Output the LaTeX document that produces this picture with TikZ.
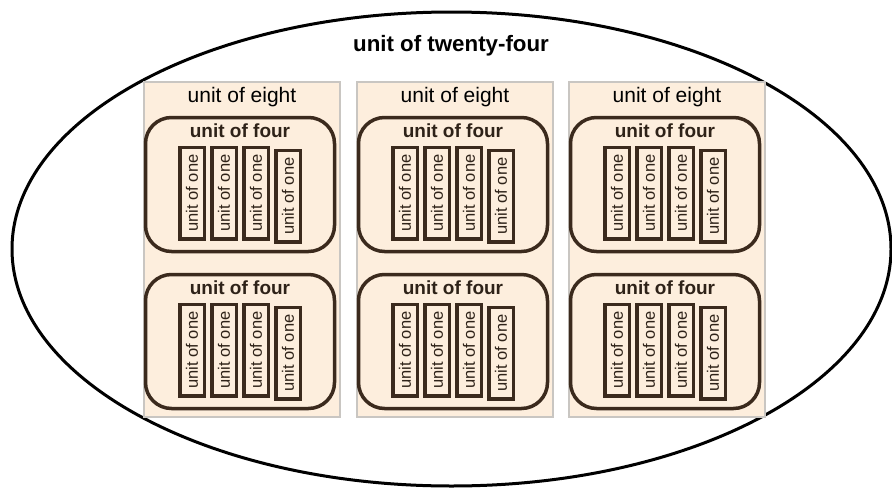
\documentclass[tikz,border=0pt]{standalone}
\usepackage{fontspec}
\setmainfont{Liberation Sans}
\definecolor{peach}{HTML}{FDEEDD}
\definecolor{boxgray}{HTML}{C9C6C2}
\definecolor{brownline}{HTML}{3B2A1D}
\definecolor{browntext}{HTML}{2E2218}
\tikzset{
  eightbox/.style={draw=boxgray, fill=peach, line width=2.5pt, minimum width=196pt, minimum height=335pt, inner sep=0pt},
  fourbox/.style={draw=brownline, line width=3.5pt, rounded corners=26pt, minimum width=189pt, minimum height=134pt, inner sep=0pt},
  onebox/.style={draw=brownline, line width=3.5pt, minimum width=91.5pt, minimum height=24.5pt, inner sep=0pt, rotate=90, text=browntext, font=\fontsize{16.5}{18}\selectfont},
  titletxt/.style={anchor=base, inner sep=0pt, font=\fontsize{22.3}{26}\selectfont\bfseries},
  eighttxt/.style={anchor=base, inner sep=0pt, font=\fontsize{21}{25}\selectfont},
  fourtxt/.style={anchor=base, inner sep=0pt, text=browntext, font=\fontsize{19}{22}\selectfont\bfseries}
}
\begin{document}
\begin{tikzpicture}[x=1pt,y=-1pt]
\useasboundingbox (0,0) rectangle (892,488);
\draw[line width=3pt] (451.5,249) ellipse [x radius=439.5, y radius=237];
\node[titletxt] (title) at (451,51) {unit of twenty-four};
\foreach \i/\cx in {1/242,2/455,3/667} {
  \node[eightbox] (e\i) at (\cx,249.5) {};
  \node[eighttxt] (t\i) at (\cx,102.3) {unit of eight};
  \foreach \j/\cy/\ty/\oy in {1/184.5/137/193, 2/341.5/294/350} {
    \node[fourbox] (f\i\j) at (\cx-2,\cy) {};
    \node[fourtxt] (ft\i\j) at (\cx-2,\ty) {unit of four};
    \foreach \k/\dx/\dy in {1/-48/0,2/-16/0,3/16/0,4/48/3} {
      \node[onebox] (o\i\j\k) at (\cx-2+\dx,\oy+\dy) {unit of one};
    }
  }
}
\end{tikzpicture}
\end{document}
